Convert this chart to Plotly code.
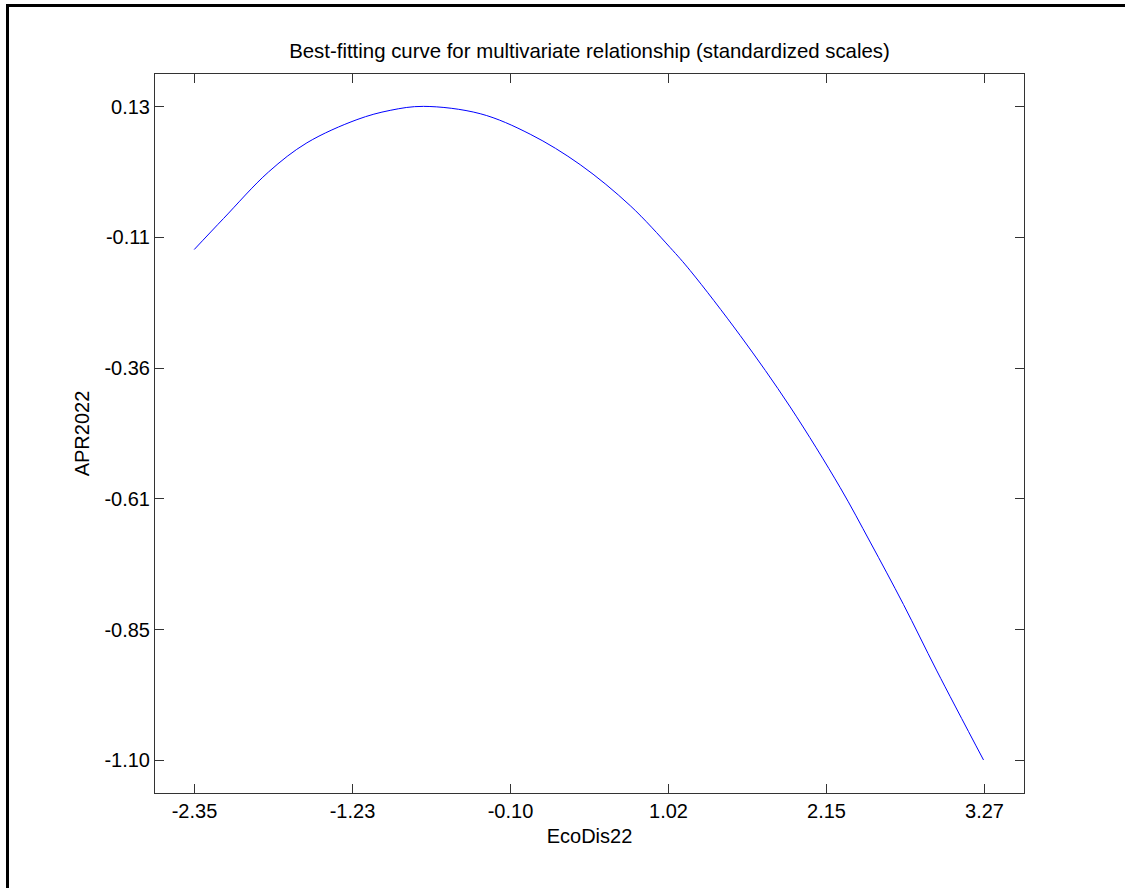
import plotly.graph_objects as go

# Curve values (standardized scales)
eco_dis22 = [-2.352, -2.1437, -1.8236, -1.5504, -1.1947, -0.9578, -0.7209, -0.3176,
             0.0381, 0.3938, 0.7495, 1.0341, 1.1763, 1.5320, 1.8877, 2.2434, 2.4568,
             2.6937, 2.9313, 3.2629]
apr2022 = [-0.1388, -0.0805, 0.0071, 0.0620, 0.1056, 0.1231, 0.1306, 0.1168,
           0.0782, 0.0209, -0.0562, -0.1352, -0.1784, -0.3006, -0.4350, -0.5868, -0.6893,
           -0.8068, -0.9318, -1.0993]

x_tickvals = [-2.35, -1.226, -0.102, 1.022, 2.146, 3.27]
x_ticktext = ["-2.35", "-1.23", "-0.10", "1.02", "2.15", "3.27"]
y_tickvals = [0.13, -0.116, -0.362, -0.608, -0.854, -1.10]
y_ticktext = ["0.13", "-0.11", "-0.36", "-0.61", "-0.85", "-1.10"]

x_range = [-2.631, 3.551]
y_range = [-1.1615, 0.1915]

FONT = "Arial, 'Liberation Sans', Helvetica, sans-serif"

fig = go.Figure()
fig.add_trace(go.Scatter(
    x=eco_dis22, y=apr2022, mode="lines",
    line=dict(color="#0000ff", width=1, shape="spline", smoothing=1.0),
    showlegend=False, hoverinfo="skip"))

W, H = 1125, 888
L, R, T, B = 155, 1024, 74, 793
pw, ph = R - L, B - T

axis_common = dict(
    showline=True, linecolor="#333333", linewidth=1, mirror="allticks",
    ticks="inside", ticklen=9, tickcolor="#333333", tickwidth=1,
    showgrid=False, zeroline=False,
    tickfont=dict(family=FONT, size=20, color="#000000"),
)

fig.update_layout(
    width=W, height=H, autosize=False,
    margin=dict(l=L, r=W - R, t=T, b=H - B, pad=0),
    paper_bgcolor="white", plot_bgcolor="white",
    font=dict(family=FONT, size=20, color="#000000"),
    title=dict(text="Best-fitting curve for multivariate relationship (standardized scales)",
               x=0.5, xref="paper", y=1 - 51 / H, yref="container",
               xanchor="center", yanchor="middle",
               font=dict(family=FONT, size=20.4, color="#000000")),
    xaxis=dict(range=x_range, tickvals=x_tickvals, ticktext=x_ticktext,
               title=dict(text="EcoDis22", standoff=7,
                          font=dict(family=FONT, size=20, color="#000000")),
               **axis_common),
    yaxis=dict(range=y_range, tickvals=y_tickvals, ticktext=y_ticktext,
               title=dict(text="APR2022", standoff=9,
                          font=dict(family=FONT, size=20, color="#000000")),
               **axis_common),
)

# Outer figure frame (visible on top and left edges only)
def px_to_paper_x(px):
    return (px - L) / pw

def px_to_paper_y(py):
    return (B - py) / ph

fig.add_shape(type="rect", xref="paper", yref="paper",
              x0=px_to_paper_x(7.5), x1=px_to_paper_x(1300),
              y0=px_to_paper_y(1100), y1=px_to_paper_y(5.5),
              line=dict(color="#000000", width=3), fillcolor="rgba(0,0,0,0)",
              layer="above")

fig.write_html("out.html")
